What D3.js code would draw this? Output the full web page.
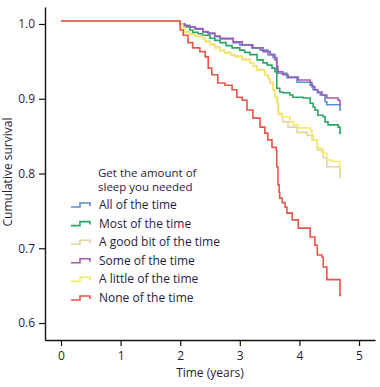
<!DOCTYPE html>
<html><head><meta charset="utf-8">
<script src="https://cdn.jsdelivr.net/npm/d3@7"></script>
<style>body{margin:0;background:#fff;}svg{display:block;font-family:"Open Sans",sans-serif;}</style>
</head><body><svg id="c" width="380" height="387"></svg>
<script>
const seriesNames = ["All of the time","Most of the time","A good bit of the time","Some of the time","A little of the time","None of the time"];
const seriesColors = ["#5b8bd2","#2ba564","#e4d2a2","#a05cb2","#f3ea6c","#e8554b"];
const xTicks = [0,1,2,3,4,5];
const yTicks = [0.6,0.7,0.8,0.9,1.0];
const legendTitle = ["Get the amount of","sleep you needed"];

const allTime = [[0,1.004],[2.0,1.0],[2.08,0.998],[2.16,0.996],[2.25,0.993],[2.38,0.989],[2.47,0.987],[2.58,0.983],[2.67,0.980],[2.89,0.975],[3.0,0.972],[3.2,0.968],[3.34,0.965],[3.47,0.959],[3.56,0.955],[3.62,0.938],[3.64,0.934],[3.79,0.928],[3.96,0.922],[4.18,0.918],[4.23,0.912],[4.30,0.908],[4.35,0.905],[4.43,0.896],[4.46,0.892],[4.68,0.885],[4.70,0.885]];
const mostTime = [[0,1.004],[2.0,1.0],[2.06,0.998],[2.11,0.996],[2.16,0.992],[2.21,0.989],[2.3,0.987],[2.37,0.985],[2.5,0.981],[2.58,0.978],[2.67,0.975],[2.77,0.971],[2.87,0.968],[3.0,0.965],[3.08,0.962],[3.17,0.959],[3.29,0.952],[3.39,0.948],[3.46,0.945],[3.54,0.941],[3.59,0.936],[3.62,0.914],[3.67,0.909],[3.72,0.908],[3.84,0.905],[3.89,0.902],[4.06,0.901],[4.18,0.894],[4.23,0.889],[4.26,0.885],[4.31,0.878],[4.40,0.876],[4.43,0.869],[4.48,0.865],[4.65,0.862],[4.68,0.854],[4.70,0.854]];
const goodBit = [[0,1.004],[2.0,1.0],[2.04,0.995],[2.08,0.990],[2.16,0.987],[2.25,0.984],[2.38,0.981],[2.42,0.977],[2.5,0.973],[2.58,0.969],[2.67,0.965],[2.75,0.962],[2.85,0.959],[2.92,0.957],[3.04,0.953],[3.17,0.948],[3.23,0.944],[3.29,0.939],[3.42,0.932],[3.47,0.927],[3.51,0.921],[3.56,0.911],[3.59,0.902],[3.63,0.893],[3.65,0.879],[3.72,0.869],[3.81,0.862],[3.96,0.855],[4.13,0.851],[4.23,0.845],[4.30,0.831],[4.40,0.821],[4.46,0.809],[4.68,0.795],[4.70,0.795]];
const someTime = [[0,1.004],[2.0,1.0],[2.08,0.998],[2.16,0.996],[2.25,0.994],[2.38,0.990],[2.47,0.988],[2.58,0.984],[2.67,0.981],[2.89,0.976],[3.04,0.972],[3.22,0.968],[3.39,0.963],[3.51,0.959],[3.59,0.952],[3.62,0.943],[3.64,0.936],[3.72,0.932],[3.81,0.929],[3.98,0.925],[4.18,0.922],[4.21,0.916],[4.26,0.912],[4.31,0.909],[4.38,0.905],[4.46,0.901],[4.65,0.898],[4.68,0.892],[4.70,0.892]];
const littleTime = [[0,1.004],[2.0,1.0],[2.04,0.994],[2.08,0.989],[2.16,0.986],[2.25,0.983],[2.38,0.980],[2.42,0.976],[2.5,0.972],[2.58,0.968],[2.67,0.964],[2.75,0.961],[2.85,0.958],[2.92,0.956],[3.04,0.952],[3.17,0.948],[3.23,0.943],[3.29,0.938],[3.42,0.932],[3.47,0.927],[3.51,0.922],[3.56,0.912],[3.59,0.903],[3.62,0.896],[3.64,0.881],[3.71,0.876],[3.84,0.869],[3.9,0.865],[3.98,0.861],[4.18,0.858],[4.21,0.845],[4.30,0.834],[4.38,0.827],[4.46,0.818],[4.55,0.816],[4.68,0.805],[4.70,0.805]];
const noneTime = [[0,1.004],[2.0,0.992],[2.05,0.985],[2.13,0.975],[2.21,0.968],[2.33,0.963],[2.42,0.956],[2.47,0.941],[2.53,0.932],[2.63,0.921],[2.75,0.918],[2.87,0.912],[2.95,0.902],[3.04,0.898],[3.12,0.885],[3.22,0.874],[3.34,0.862],[3.42,0.854],[3.47,0.845],[3.54,0.835],[3.61,0.831],[3.62,0.809],[3.64,0.785],[3.66,0.775],[3.67,0.767],[3.71,0.761],[3.76,0.755],[3.79,0.747],[3.88,0.738],[3.98,0.727],[4.18,0.715],[4.26,0.704],[4.30,0.691],[4.38,0.688],[4.40,0.675],[4.46,0.658],[4.68,0.637],[4.70,0.637]];
const seriesData = [allTime, mostTime, goodBit, someTime, littleTime, noneTime];

const svg = d3.select("#c");
const x = d3.scaleLinear().domain([-0.268, 5.268]).range([45, 375]);
const y = d3.scaleLinear().domain([0.5773, 1.0227]).range([340, 7]);
const textCol = "#1e1e3c";

const xa = svg.append("g").attr("transform","translate(0,340)")
  .call(d3.axisBottom(x).tickValues(xTicks).tickFormat(d3.format("d")).tickSize(6).tickSizeOuter(0).tickPadding(5));
const ya = svg.append("g").attr("transform","translate(45,0)")
  .call(d3.axisLeft(y).tickValues(yTicks).tickFormat(d3.format(".1f")).tickSize(6).tickSizeOuter(0).tickPadding(4));
[xa, ya].forEach(a => {
  a.select(".domain").attr("stroke","#111").attr("stroke-width",1.4);
  a.selectAll(".tick line").attr("stroke","#111").attr("stroke-width",1.2);
  a.selectAll(".tick text").attr("fill",textCol).attr("font-size",12).attr("font-family","'Open Sans',sans-serif");
});

svg.append("text").attr("x",210).attr("y",377).attr("text-anchor","middle")
  .attr("font-size",12).attr("fill",textCol).text("Time (years)");
svg.append("text").attr("transform","translate(12,172) rotate(-90)").attr("text-anchor","middle")
  .attr("font-size",12).attr("fill",textCol).text("Cumulative survival");

const line = d3.line().x(d => x(d[0])).y(d => y(d[1])).curve(d3.curveStepAfter);
seriesData.forEach((s, i) => {
  svg.append("path").datum(s).attr("d", line).attr("fill","none")
    .attr("stroke", seriesColors[i]).attr("stroke-width",1.6);
});

const lg = svg.append("g");
legendTitle.forEach((t, i) => {
  lg.append("text").attr("x",98).attr("y",177 + i*14).attr("font-size",11.5).attr("fill",textCol).text(t);
});
seriesNames.forEach((n, i) => {
  const cy = 205 + i*18.6;
  lg.append("path").attr("d",`M71,${cy+2}H80V${cy-2}H90V${cy+1}`).attr("fill","none")
    .attr("stroke",seriesColors[i]).attr("stroke-width",1.6);
  lg.append("text").attr("x",99).attr("y",cy+4).attr("font-size",12).attr("fill",textCol).text(n);
});
</script></body></html>
